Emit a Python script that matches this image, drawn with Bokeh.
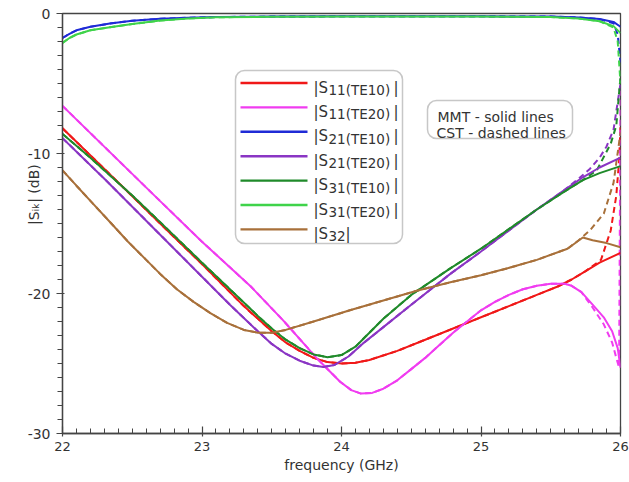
import numpy as np
from bokeh.plotting import figure
from bokeh.models import Range1d, FixedTicker, BoxAnnotation, Label
from bokeh.embed import file_html
from bokeh.resources import INLINE

# ---------------- data ----------------
# MMT (solid lines)
f_s11_te10 = [22.0, 22.3, 22.7, 23.0, 23.3, 23.5, 23.6, 23.7, 23.8, 23.9, 24.0, 24.1, 24.2, 24.4,
              24.6, 24.8, 25.0, 25.2, 25.4, 25.55, 25.65, 25.75, 25.85, 26.0]
s11_te10 = [-8.2, -11.1, -15.0, -17.9, -20.9, -22.7, -23.5, -24.1, -24.6, -24.9, -25.0, -24.95, -24.75, -24.1,
            -23.3, -22.5, -21.7, -20.9, -20.1, -19.5, -19.0, -18.4, -17.8, -17.1]

f_s11_te20 = [22.0, 22.7, 23.0, 23.35, 23.58, 23.83, 23.99, 24.07, 24.14, 24.22, 24.3, 24.4, 24.5, 24.6,
              24.7, 24.8, 24.9, 25.0, 25.1, 25.2, 25.3, 25.4, 25.5, 25.6, 25.65, 25.72, 25.8, 25.88,
              25.94, 25.98, 26.0]
s11_te20 = [-6.6, -13.4, -16.3, -19.5, -21.9, -24.7, -26.3, -26.9, -27.15, -27.1, -26.8, -26.2, -25.4, -24.6,
            -23.7, -22.8, -22.0, -21.2, -20.6, -20.1, -19.7, -19.45, -19.3, -19.3, -19.45, -19.9, -20.8, -21.7,
            -22.7, -23.9, -25.3]

f_s21_te10 = [22.0, 22.05, 22.1, 22.2, 22.34, 22.5, 22.7, 22.9, 23.1, 23.5, 24.0, 25.0, 25.5, 25.7,
              25.85, 25.95, 26.0]
s21_te10 = [-1.75, -1.45, -1.2, -0.95, -0.72, -0.52, -0.38, -0.3, -0.25, -0.22, -0.2, -0.2, -0.22, -0.28,
            -0.4, -0.6, -0.95]

f_s21_te20 = [22.0, 22.3, 22.7, 23.0, 23.2, 23.4, 23.5, 23.6, 23.7, 23.8, 23.87, 23.95, 24.05, 24.15,
              24.3, 24.5, 24.78, 25.0, 25.2, 25.4, 25.6, 25.73, 25.85, 26.0]
s21_te20 = [-8.9, -11.8, -15.8, -18.8, -20.8, -22.7, -23.6, -24.3, -24.8, -25.15, -25.25, -25.1, -24.5, -23.6,
            -22.4, -20.8, -18.6, -17.0, -15.5, -14.0, -12.6, -11.7, -11.0, -10.3]

f_s31_te10 = [22.0, 22.2, 22.5, 22.7, 23.0, 23.2, 23.4, 23.5, 23.6, 23.7, 23.8, 23.9, 24.0, 24.1,
              24.2, 24.3, 24.5, 24.78, 25.0, 25.2, 25.4, 25.6, 25.73, 25.85, 26.0]
s31_te10 = [-8.6, -10.3, -13.0, -14.9, -17.8, -19.7, -21.6, -22.5, -23.3, -23.9, -24.35, -24.55, -24.4, -23.8,
            -22.8, -21.8, -20.1, -18.2, -16.8, -15.4, -14.0, -12.7, -11.9, -11.4, -10.9]

f_s31_te20 = [22.0, 22.05, 22.1, 22.2, 22.34, 22.5, 22.7, 22.9, 23.1, 23.5, 24.0, 25.0, 25.5, 25.7,
              25.85, 25.95, 26.0]
s31_te20 = [-2.1, -1.75, -1.5, -1.2, -0.98, -0.75, -0.5, -0.35, -0.27, -0.23, -0.22, -0.22, -0.25, -0.35,
            -0.55, -0.9, -1.4]

f_s32 = [22.0, 22.1, 22.22, 22.35, 22.47, 22.6, 22.7, 22.82, 22.94, 23.06, 23.18, 23.3, 23.4, 23.5,
         23.6, 23.8, 24.06, 24.3, 24.54, 24.78, 25.0, 25.19, 25.4, 25.62, 25.73, 25.8, 25.9, 26.0]
s32 = [-11.2, -12.3, -13.6, -15.0, -16.3, -17.6, -18.6, -19.7, -20.6, -21.4, -22.1, -22.6, -22.8, -22.8,
       -22.6, -22.0, -21.2, -20.5, -19.8, -19.2, -18.7, -18.2, -17.6, -16.8, -16.0, -16.2, -16.4, -16.7]

# CST (dashed lines)
f_s11_te10_cst = [22.0, 22.3, 22.7, 23.0, 23.3, 23.5, 23.6, 23.7, 23.8, 23.9, 24.0, 24.1, 24.2, 24.4,
                  24.6, 24.8, 25.0, 25.2, 25.4, 25.55, 25.65, 25.75, 25.86, 25.93, 25.97, 25.99, 26.0]
s11_te10_cst = [-8.2, -11.1, -15.0, -17.9, -20.9, -22.7, -23.5, -24.1, -24.6, -24.9, -25.0, -24.95, -24.75, -24.1,
                -23.3, -22.5, -21.7, -20.9, -20.1, -19.5, -19.0, -18.4, -17.6, -15.5, -13.0, -10.5, -8.0]

f_s11_te20_cst = [22.0, 22.7, 23.0, 23.35, 23.58, 23.83, 23.99, 24.07, 24.14, 24.22, 24.3, 24.4, 24.5, 24.6,
                  24.7, 24.8, 24.9, 25.0, 25.1, 25.2, 25.3, 25.4, 25.5, 25.6, 25.65, 25.72, 25.8, 25.88,
                  25.94, 25.97, 25.99, 26.0]
s11_te20_cst = [-6.6, -13.4, -16.3, -19.5, -21.9, -24.7, -26.3, -26.9, -27.15, -27.1, -26.8, -26.2, -25.4, -24.6,
                -23.7, -22.8, -22.0, -21.2, -20.6, -20.1, -19.7, -19.45, -19.3, -19.3, -19.45, -19.9, -21.0, -22.2,
                -23.5, -24.6, -25.3, -5.5]

f_s21_te10_cst = [22.0, 22.05, 22.1, 22.2, 22.34, 22.5, 22.7, 22.9, 23.1, 23.5, 24.0, 25.0, 25.5, 25.7,
                  25.85, 25.95, 25.98, 26.0]
s21_te10_cst = [-1.75, -1.45, -1.2, -0.95, -0.72, -0.52, -0.38, -0.3, -0.25, -0.22, -0.2, -0.2, -0.22, -0.28,
                -0.4, -0.7, -1.5, -3.5]

f_s21_te20_cst = [22.0, 22.3, 22.7, 23.0, 23.2, 23.4, 23.5, 23.6, 23.7, 23.8, 23.87, 23.95, 24.05, 24.15,
                  24.3, 24.5, 24.78, 25.0, 25.2, 25.4, 25.6, 25.7, 25.78, 25.85, 25.9, 25.95, 26.0]
s21_te20_cst = [-8.9, -11.8, -15.8, -18.8, -20.8, -22.7, -23.6, -24.3, -24.8, -25.15, -25.25, -25.1, -24.5, -23.6,
                -22.4, -20.8, -18.6, -17.0, -15.5, -14.0, -12.6, -11.8, -11.1, -10.3, -9.5, -8.3, -5.0]

f_s31_te10_cst = [22.0, 22.2, 22.5, 22.7, 23.0, 23.2, 23.4, 23.5, 23.6, 23.7, 23.8, 23.9, 24.0, 24.1,
                  24.2, 24.3, 24.5, 24.78, 25.0, 25.2, 25.4, 25.6, 25.73, 25.83, 25.93, 25.97, 26.0]
s31_te10_cst = [-8.6, -10.3, -13.0, -14.9, -17.8, -19.7, -21.6, -22.5, -23.3, -23.9, -24.35, -24.55, -24.4, -23.8,
                -22.8, -21.8, -20.1, -18.2, -16.8, -15.4, -14.0, -12.7, -11.9, -11.2, -9.3, -8.0, -4.5]

f_s31_te20_cst = [22.0, 22.05, 22.1, 22.2, 22.34, 22.5, 22.7, 22.9, 23.1, 23.5, 24.0, 25.0, 25.5, 25.7,
                  25.85, 25.95, 25.98, 26.0]
s31_te20_cst = [-2.1, -1.75, -1.5, -1.2, -0.98, -0.75, -0.5, -0.35, -0.27, -0.23, -0.22, -0.22, -0.25, -0.35,
                -0.55, -1.0, -2.0, -5.0]

f_s32_cst = [22.0, 22.1, 22.22, 22.35, 22.47, 22.6, 22.7, 22.82, 22.94, 23.06, 23.18, 23.3, 23.4, 23.5,
             23.6, 23.8, 24.06, 24.3, 24.54, 24.78, 25.0, 25.19, 25.4, 25.62, 25.7, 25.78, 25.88, 25.95, 26.0]
s32_cst = [-11.2, -12.3, -13.6, -15.0, -16.3, -17.6, -18.6, -19.7, -20.6, -21.4, -22.1, -22.6, -22.8, -22.8,
           -22.6, -22.0, -21.2, -20.5, -19.8, -19.2, -18.7, -18.2, -17.6, -16.8, -16.2, -15.5, -14.3, -12.1, -8.5]

legend_names = ["11(TE10)", "11(TE20)", "21(TE10)", "21(TE20)", "31(TE10)", "31(TE20)", "32"]
colors = ["#f01818", "#f03cf0", "#1f2bd6", "#8a35c4", "#1f8a2a", "#3fd34a", "#a8703a"]

x_ticks = [22, 23, 24, 25, 26]
x_tick_labels = ["22", "23", "24", "25", "26"]
y_ticks = [0, -10, -20, -30]
y_tick_labels = ["0", "-10", "-20", "-30"]

mmt = [(f_s11_te10, s11_te10), (f_s11_te20, s11_te20), (f_s21_te10, s21_te10), (f_s21_te20, s21_te20),
       (f_s31_te10, s31_te10), (f_s31_te20, s31_te20), (f_s32, s32)]
cst = [(f_s11_te10_cst, s11_te10_cst), (f_s11_te20_cst, s11_te20_cst), (f_s21_te10_cst, s21_te10_cst),
       (f_s21_te20_cst, s21_te20_cst), (f_s31_te10_cst, s31_te10_cst), (f_s31_te20_cst, s31_te20_cst),
       (f_s32_cst, s32_cst)]

# ---------------- figure ----------------
FONT = "DejaVu Sans"
TXT = "#333333"
AX = "#444444"

p = figure(width=629, height=482, output_backend="svg", toolbar_location=None,
           x_range=Range1d(22, 26), y_range=Range1d(-30, 0),
           min_border_left=62, min_border_right=9, min_border_top=13, min_border_bottom=49)
p.xgrid.visible = False
p.ygrid.visible = False
p.outline_line_color = AX
p.outline_line_width = 1.3
p.background_fill_color = "white"
p.border_fill_color = "white"

# helpers to place decorations (reference pixel positions -> data units)
PX_L, PX_R, PX_T, PX_B = 62, 620, 13, 433
def dx(px):
    return 22 + (px - PX_L) * 4.0 / (PX_R - PX_L)
def dy(py):
    return -30.0 * (py - PX_T) / (PX_B - PX_T)

# axes
p.xaxis.ticker = FixedTicker(ticks=x_ticks, minor_ticks=list(np.round(np.arange(22, 26.001, 0.1), 2)))
p.yaxis.ticker = FixedTicker(ticks=y_ticks, minor_ticks=list(range(-30, 1)))
p.xaxis.major_label_overrides = dict(zip(x_ticks, x_tick_labels))
p.yaxis.major_label_overrides = dict(zip(y_ticks, y_tick_labels))

for ax in (p.xaxis[0], p.yaxis[0]):
    ax.axis_line_color = AX
    ax.axis_line_width = 1.3
    ax.major_tick_line_color = AX
    ax.minor_tick_line_color = AX
    ax.major_tick_line_width = 1.2
    ax.minor_tick_line_width = 1.0
    ax.major_label_text_font = FONT
    ax.major_label_text_color = TXT
    ax.axis_label_text_font = FONT
    ax.axis_label_text_font_style = "normal"
    ax.axis_label_text_color = TXT

p.xaxis.major_label_text_font_size = "13px"
p.xaxis.major_tick_in = 7
p.xaxis.major_tick_out = 3
p.xaxis.minor_tick_in = 5
p.xaxis.minor_tick_out = 0
p.xaxis.major_label_standoff = 5
p.xaxis.axis_label = "frequency (GHz)"
p.xaxis.axis_label_text_font_size = "14px"
p.xaxis.axis_label_standoff = 3

p.yaxis.major_label_text_font_size = "14px"
p.yaxis.major_tick_in = 2
p.yaxis.major_tick_out = 6
p.yaxis.minor_tick_in = 0
p.yaxis.minor_tick_out = 5
p.yaxis.major_label_standoff = 6
# |S_ik| (dB); leading no-break spaces shift the text up to where the reference has it
p.yaxis.axis_label = "\u00a0" * 13 + "|S\u1d62\u2096| (dB)"
p.yaxis.axis_label_text_font_size = "14px"
p.yaxis.axis_label_standoff = -17

# curves
for (f, v), c in zip(cst, colors):
    p.line(f, v, line_color=c, line_width=2, line_dash="6 4")
for (f, v), c in zip(mmt, colors):
    p.line(f, v, line_color=c, line_width=2)

# legend box
p.add_layout(BoxAnnotation(left=dx(235), right=dx(402), top=dy(70), bottom=dy(243),
                           fill_color="white", fill_alpha=1, line_color=AX, line_width=1.5,
                           border_radius=9))
for i, (name, c) in enumerate(zip(legend_names, colors)):
    yl = 82.5 + 24.4 * i
    p.add_layout(BoxAnnotation(left=dx(240), right=dx(307), top=dy(yl - 1.2), bottom=dy(yl + 1.2),
                               fill_color=c, fill_alpha=1, line_alpha=0))
    yb = 87 + 24.4 * i
    p.add_layout(Label(x=dx(313), y=dy(yb), text="|S", text_font=FONT, text_font_size="15px",
                       text_color=TXT, text_baseline="alphabetic", text_align="left"))
    p.add_layout(Label(x=dx(328), y=dy(yb + 2.5), text=name, text_font=FONT, text_font_size="13.5px",
                       text_color=TXT, text_baseline="alphabetic", text_align="left"))
    close_x = 345 if name == "32" else 393
    p.add_layout(Label(x=dx(close_x), y=dy(yb), text="|", text_font=FONT, text_font_size="15px",
                       text_color=TXT, text_baseline="alphabetic", text_align="left"))

# MMT / CST note box
p.add_layout(BoxAnnotation(left=dx(427), right=dx(572), top=dy(100), bottom=dy(138),
                           fill_color="white", fill_alpha=1, line_color=AX, line_width=1.5,
                           border_radius=9))
p.add_layout(Label(x=dx(437), y=dy(116), text="MMT - solid lines", text_font=FONT, text_font_size="14px",
                   text_color=TXT, text_baseline="alphabetic", text_align="left"))
p.add_layout(Label(x=dx(436), y=dy(132), text="CST - dashed lines", text_font=FONT, text_font_size="14px",
                   text_color=TXT, text_baseline="alphabetic", text_align="left"))

open("out.html", "w").write(file_html(p, INLINE))
